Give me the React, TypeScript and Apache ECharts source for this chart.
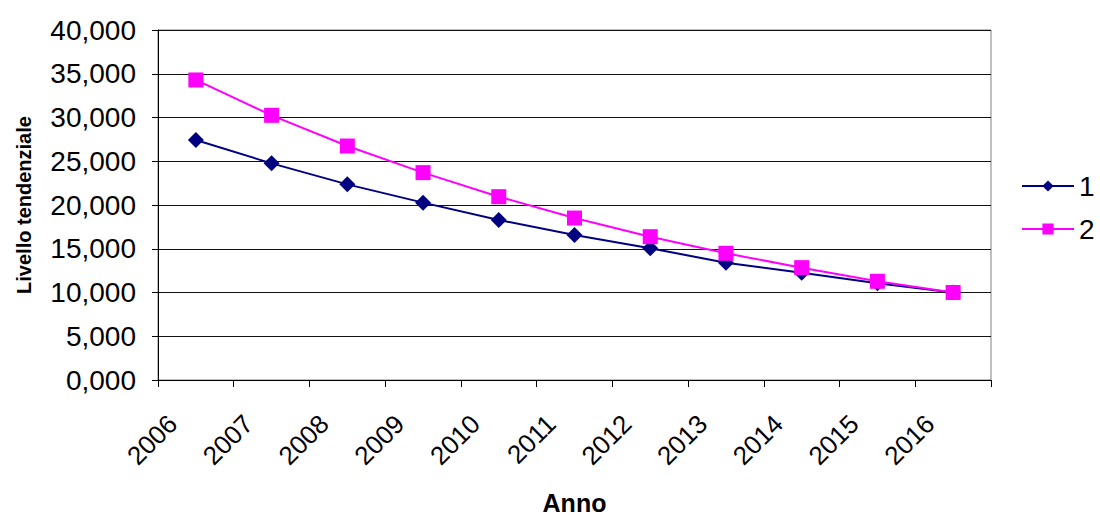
import React, { useEffect, useRef } from "react";
import * as echarts from "echarts";

const years = ["2006", "2007", "2008", "2009", "2010", "2011", "2012", "2013", "2014", "2015", "2016"];
const series1 = [27430, 24760, 22360, 20270, 18290, 16570, 15050, 13410, 12270, 11050, 10000];
const series2 = [34290, 30250, 26740, 23700, 20950, 18510, 16380, 14480, 12840, 11280, 10000];
const seriesNames = ["1", "2"];

export default function App() {
  const ref = useRef<HTMLDivElement>(null);
  useEffect(() => {
    const chart = echarts.init(ref.current!, null, { renderer: "svg" });
    const font = "Arial, 'Liberation Sans', sans-serif";
    chart.setOption({
      animation: false,
      backgroundColor: "#ffffff",
      textStyle: { fontFamily: font, color: "#000" },
      grid: {
        left: 158,
        right: 109,
        top: 30,
        bottom: 138,
        show: true,
        borderColor: "#808080",
        borderWidth: 1,
        containLabel: false,
        outerBoundsMode: "none",
      },
      legend: {
        orient: "vertical",
        left: 1021,
        top: 172,
        itemWidth: 52,
        itemHeight: 14,
        itemGap: 15,
        padding: 0,
        textStyle: { fontSize: 28, fontFamily: font, color: "#000" },
        data: seriesNames,
      },
      xAxis: {
        type: "category",
        data: years,
        boundaryGap: true,
        name: "Anno",
        nameLocation: "middle",
        nameGap: 123,
        nameMoveOverlap: false,
        nameTextStyle: {
          fontSize: 25,
          fontWeight: "bold",
          fontFamily: font,
          color: "#000",
          verticalAlign: "middle",
        },
        axisLine: { lineStyle: { color: "#000", width: 1 } },
        axisTick: { show: true, alignWithLabel: false, length: 7, lineStyle: { color: "#000" } },
        axisLabel: {
          rotate: 45,
          fontSize: 26,
          fontFamily: font,
          color: "#000",
          margin: 16,
          interval: 0,
          padding: [0, 33, 0, 0],
        },
        splitLine: { show: false },
      },
      yAxis: {
        type: "value",
        min: 0,
        max: 40000,
        interval: 5000,
        name: "Livello tendenziale",
        nameLocation: "middle",
        nameGap: 124,
        nameMoveOverlap: false,
        nameTextStyle: { fontSize: 20, fontWeight: "bold", fontFamily: font, color: "#000" },
        axisLine: { show: true, lineStyle: { color: "#000", width: 1 } },
        axisTick: { show: true, length: 6, lineStyle: { color: "#000" } },
        axisLabel: {
          fontSize: 28,
          fontFamily: font,
          color: "#000",
          margin: 22,
          formatter: (v: number) => (v / 1000).toFixed(3).replace(".", ","),
        },
        splitLine: { show: true, lineStyle: { color: "#111", width: 1 } },
      },
      series: [
        {
          name: seriesNames[0],
          type: "line",
          data: series1,
          symbol: "diamond",
          symbolSize: 16,
          lineStyle: { color: "#000080", width: 2 },
          itemStyle: { color: "#000080" },
        },
        {
          name: seriesNames[1],
          type: "line",
          data: series2,
          symbol: "rect",
          symbolSize: 15,
          lineStyle: { color: "#FF00FF", width: 2 },
          itemStyle: { color: "#FF00FF" },
        },
      ],
    });
    return () => chart.dispose();
  }, []);
  return (
    <div
      ref={ref}
      style={{ position: "absolute", left: 0, top: 0, width: 1100, height: 518 }}
    />
  );
}
